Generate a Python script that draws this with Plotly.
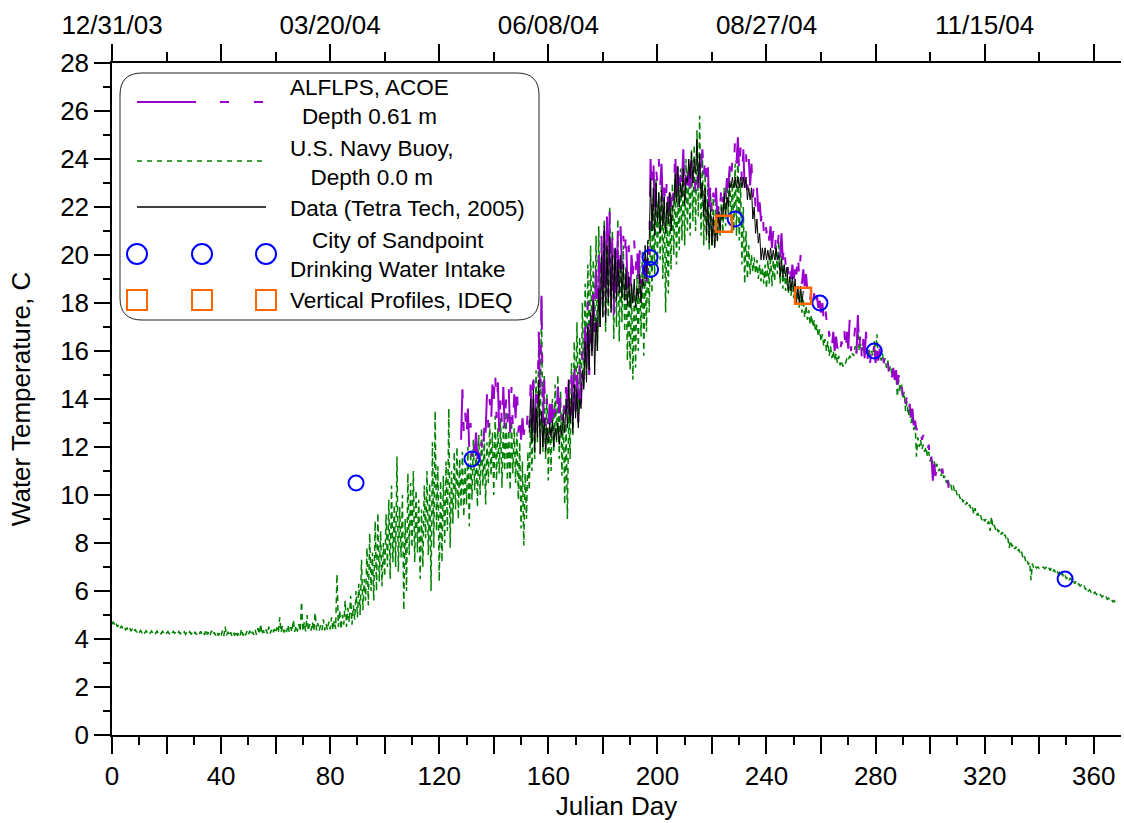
import plotly.graph_objects as go

# ---------------------------------------------------------------------------
# Water temperature records, 2004 (Julian day on x, deg C on y)
# Each continuous record is stored as a daily low / daily high pair.
# ---------------------------------------------------------------------------

# U.S. Navy Buoy, depth 0.0 m  (day 0 .. 368)
buoy_start = 0
buoy_lo = [
    4.62, 4.55, 4.50, 4.45, 4.42, 4.38, 4.35, 4.33, 4.30, 4.28,
    4.27, 4.26, 4.25, 4.26, 4.24, 4.25, 4.23, 4.24, 4.22, 4.23,
    4.24, 4.22, 4.23, 4.24, 4.22, 4.21, 4.22, 4.20, 4.21, 4.20,
    4.19, 4.18, 4.20, 4.19, 4.17, 4.18, 4.16, 4.17, 4.15, 4.14,
    4.13, 4.12, 4.14, 4.13, 4.12, 4.14, 4.13, 4.15, 4.14, 4.16,
    4.17, 4.16, 4.18, 4.17, 4.20, 4.19, 4.22, 4.21, 4.23, 4.22,
    4.25, 4.26, 4.28, 4.27, 4.29, 4.28, 4.30, 4.30, 4.31, 4.32,
    4.33, 4.32, 4.34, 4.35, 4.33, 4.36, 4.35, 4.37, 4.36, 4.38,
    4.40, 4.38, 4.42, 4.50, 4.40, 4.60, 4.50, 4.70, 4.60, 4.80,
    4.9, 5.0, 5.2, 5.6, 5.4, 6.0, 5.6, 6.0, 6.4, 6.2,
    6.6, 7.0, 6.5, 7.2, 7.0, 6.8, 7.4, 5.2, 6.0, 7.5,
    7.8, 7.2, 7.6, 6.5, 7.0, 8.2, 7.5, 6.0, 7.8, 8.5,
    6.4, 7.2, 8.0, 8.5, 7.8, 8.8, 9.4, 9.0, 9.5, 9.1,
    9.6, 8.7, 9.8, 10.2, 9.5, 10.0, 10.4, 9.6, 10.5, 10.8,
    10.0, 10.6, 10.9, 10.3, 11.0, 10.6, 10.2, 10.9, 10.5, 9.8,
    8.6, 7.9, 9.0, 10.2, 11.0, 11.5, 12.2, 12.6, 11.8, 11.5,
    10.6, 11.0, 11.8, 12.2, 11.5, 10.8, 9.6, 9.0, 11.5, 12.5,
    13.4, 13.0, 13.8, 14.5, 15.0, 15.5, 16.2, 16.8, 16.0, 17.0,
    17.5, 16.8, 17.4, 17.8, 16.5, 17.0, 16.4, 17.2, 16.8, 15.6,
    15.2, 14.8, 15.3, 16.0, 16.6, 15.8, 16.8, 17.6, 18.4, 19.2,
    19.6, 19.8, 19.0, 17.6, 18.4, 19.4, 20.0, 19.6, 20.2, 20.6,
    20.4, 21.0, 20.8, 21.4, 21.0, 21.6, 20.8, 20.4, 20.6, 20.2,
    20.4, 20.3, 20.6, 20.8, 20.9, 21.2, 21.6, 21.4, 21.0, 20.8,
    20.6, 19.6, 18.8, 19.0, 19.2, 19.3, 19.2, 19.0, 18.9, 18.8,
    18.6, 18.8, 18.7, 18.9, 19.2, 18.8, 18.6, 18.5, 18.4, 18.3,
    18.2, 18.0, 17.8, 17.6, 17.4, 17.3, 17.1, 17.0, 16.8, 16.6,
    16.4, 16.2, 16.0, 15.8, 15.7, 15.6, 15.5, 15.4, 15.35, 15.5,
    15.6, 15.7, 15.8, 15.9, 16.0, 16.0, 15.9, 15.9, 15.8, 15.8,
    15.9, 15.7, 15.6, 15.5, 15.3, 15.2, 15.0, 14.8, 14.1, 14.3,
    14.0, 13.5, 13.3, 13.0, 12.7, 11.6, 12.0, 11.9, 11.8, 11.6,
    11.4, 11.2, 11.1, 11.0, 10.8, 10.7, 10.5, 10.4, 10.2, 10.1,
    9.95, 9.85, 9.7, 9.6, 9.5, 9.4, 9.2, 9.15, 9.05, 8.95,
    8.9, 8.8, 8.5, 8.65, 8.55, 8.45, 8.35, 8.25, 8.1, 7.8,
    7.85, 7.75, 7.65, 7.55, 7.4, 7.25, 7.1, 6.45, 6.95, 6.95,
    6.95, 6.95, 6.93, 6.9, 6.85, 6.8, 6.75, 6.7, 6.65, 6.55,
    6.5, 6.45, 6.4, 6.3, 6.25, 6.2, 6.15, 6.05, 6.0, 5.95,
    5.9, 5.85, 5.8, 5.75, 5.7, 5.65, 5.6, 5.55, 5.5,
]
buoy_hi = [
    4.72, 4.65, 4.60, 4.55, 4.50, 4.46, 4.45, 4.42, 4.40, 4.38,
    4.36, 4.34, 4.35, 4.33, 4.34, 4.32, 4.33, 4.31, 4.32, 4.30,
    4.31, 4.30, 4.32, 4.30, 4.31, 4.29, 4.30, 4.29, 4.30, 4.28,
    4.30, 4.27, 4.32, 4.28, 4.40, 4.30, 4.34, 4.28, 4.30, 4.26,
    4.35, 4.52, 4.30, 4.28, 4.27, 4.33, 4.28, 4.42, 4.30, 4.32,
    4.34, 4.30, 4.38, 4.45, 4.62, 4.36, 4.40, 4.52, 4.38, 4.42,
    4.48, 4.90, 4.55, 4.46, 4.58, 4.50, 4.80, 4.56, 4.62, 5.55,
    4.70, 5.00, 4.62, 4.70, 5.10, 4.66, 4.58, 4.82, 4.64, 4.72,
    4.90, 4.76, 6.70, 5.20, 5.00, 5.60, 5.30, 5.80, 5.40, 6.00,
    6.3, 7.3, 6.5, 7.8, 8.4, 7.6, 8.9, 9.25, 8.5, 8.0,
    9.2, 9.8, 10.4, 9.6, 11.6, 9.5, 10.0, 9.0, 10.9, 10.5,
    11.0, 10.2, 9.8, 9.4, 10.4, 11.0, 10.5, 12.2, 13.5, 11.2,
    10.6, 10.8, 11.4, 13.6, 11.0, 11.8, 12.0, 11.5, 11.8, 11.2,
    12.0, 11.8, 12.3, 12.0, 12.5, 12.8, 12.4, 12.2, 13.0, 12.6,
    13.3, 12.8, 13.2, 12.9, 13.5, 12.7, 13.1, 12.8, 12.6, 12.2,
    11.4, 10.9, 11.8, 13.2, 14.0, 15.2, 16.5, 18.2, 15.0, 14.2,
    13.5, 14.0, 14.6, 15.0, 14.3, 13.6, 13.0, 13.8, 15.5, 16.4,
    17.2, 16.6, 18.0, 18.8, 19.6, 20.4, 19.8, 20.8, 21.2, 20.5,
    21.5, 20.8, 22.0, 21.0, 20.2, 21.5, 19.8, 20.4, 19.5, 19.0,
    18.8, 18.4, 19.2, 19.8, 20.2, 19.6, 20.6, 21.4, 22.4, 23.2,
    22.6, 23.4, 22.8, 21.6, 22.4, 23.0, 23.2, 22.8, 23.6, 23.4,
    24.0, 23.8, 24.4, 24.6, 25.2, 25.8, 24.2, 23.4, 23.0, 22.6,
    22.4, 22.2, 22.0, 22.4, 22.8, 23.2, 23.6, 23.0, 23.8, 24.4,
    23.0, 22.0, 21.0, 20.4, 20.0, 19.9, 19.8, 19.6, 19.5, 19.6,
    19.8, 20.0, 19.8, 20.4, 20.6, 20.0, 19.6, 19.2, 19.0, 18.9,
    18.8, 18.7, 18.5, 18.2, 17.9, 17.7, 17.5, 17.3, 17.1, 16.9,
    16.7, 16.5, 16.4, 16.2, 16.0, 15.9, 15.8, 15.6, 15.55, 15.7,
    15.8, 15.9, 16.2, 16.9, 16.3, 16.2, 16.1, 16.1, 16.0, 16.4,
    16.7, 16.0, 15.9, 15.7, 15.6, 15.4, 15.2, 15.0, 14.8, 14.6,
    14.3, 13.9, 13.6, 13.3, 13.0, 12.4, 12.3, 12.1, 12.0, 11.8,
    11.6, 11.4, 11.3, 11.1, 11.0, 10.8, 10.7, 10.5, 10.4, 10.2,
    10.05, 9.95, 9.8, 9.7, 9.6, 9.5, 9.45, 9.25, 9.15, 9.05,
    9.0, 8.9, 9.1, 8.75, 8.65, 8.55, 8.45, 8.35, 8.2, 8.1,
    7.95, 7.85, 7.75, 7.65, 7.5, 7.35, 7.2, 7.15, 7.05, 7.0,
    7.0, 7.0, 6.98, 6.98, 6.95, 6.9, 6.85, 6.8, 6.75, 6.65,
    6.6, 6.55, 6.45, 6.4, 6.3, 6.25, 6.2, 6.15, 6.05, 6.0,
    5.95, 5.9, 5.85, 5.8, 5.75, 5.7, 5.65, 5.6, 5.55,
]

# ALFLPS, ACOE, depth 0.61 m  (day 128 .. 307)
alflps_start = 128
alflps_lo = [
    12.3, 12.6, 12.4, 11.9, 11.6, 11.8, 11.5, 11.2, 11.6, 12.6,
    12.8, 13.0, 14.0, 13.2, 12.6, 12.9, 12.7, 13.0, 12.6, 12.8,
    13.2, 12.6, 12.3, 12.5, 12.6, 12.8, 13.0, 12.6, 13.8, 14.0,
    13.0, 12.8, 12.9, 13.0, 12.8, 13.1, 13.4, 13.1, 13.3, 13.6,
    12.8, 13.2, 13.5, 13.0, 13.8, 14.8, 15.4, 15.0, 16.0, 16.6,
    17.0, 17.4, 17.8, 17.5, 18.2, 18.0, 17.5, 18.0, 19.0, 19.4,
    19.9, 18.6, 18.2, 19.2, 19.3, 19.0, 18.8, 18.7, 18.9, 20.0,
    21.9, 22.0, 23.0, 22.8, 22.0, 22.0, 21.8, 22.0, 22.3, 22.6,
    22.4, 23.0, 22.6, 22.4, 22.8, 23.0, 22.6, 22.8, 23.7, 23.2,
    23.0, 22.0, 21.6, 21.8, 21.5, 22.0, 22.2, 22.4, 22.8, 23.0,
    23.7, 23.8, 23.4, 23.0, 22.8, 22.7, 22.9, 22.4, 21.9, 21.8,
    21.4, 21.0, 20.9, 20.6, 20.3, 20.1, 20.2, 19.9, 19.8, 19.6,
    19.2, 19.0, 19.0, 19.2, 19.0, 18.8, 18.7, 18.5, 18.1, 17.9,
    17.7, 17.8, 17.6, 17.3, 17.3, 16.6, 16.2, 16.0, 16.1, 16.0,
    16.2, 15.9, 16.1, 16.0, 16.3, 15.9, 16.0, 15.5, 15.7, 15.6,
    15.5, 15.7, 15.5, 15.6, 15.5, 15.5, 15.2, 15.0, 14.9, 14.8,
    14.6, 14.4, 14.1, 13.8, 13.4, 13.25, 12.9, 12.7, 12.5, 12.3,
    12.2, 11.8, 11.2, 10.6, 10.8, 11.0, 10.9, 10.7, 10.4, 10.1,
]
alflps_hi = [
    14.4, 13.5, 13.6, 13.0, 12.4, 12.6, 12.3, 12.2, 12.8, 14.2,
    14.0, 14.6, 15.2, 14.7, 14.2, 14.5, 14.0, 14.4, 14.5, 14.2,
    14.6, 13.4, 13.2, 13.0, 13.6, 14.6, 15.3, 14.5, 16.8, 18.3,
    14.8, 14.0, 13.8, 14.2, 13.6, 14.5, 14.2, 14.0, 14.5, 14.8,
    15.0, 15.6, 15.0, 15.4, 16.0, 17.0, 18.1, 17.6, 18.6, 19.4,
    20.0, 20.8, 21.0, 21.6, 21.8, 21.0, 20.6, 21.0, 21.2, 20.8,
    21.0, 20.4, 20.0, 20.6, 20.4, 20.2, 19.8, 19.8, 20.6, 24.0,
    24.1, 23.6, 24.0, 23.8, 22.8, 23.2, 22.6, 23.0, 24.4, 24.0,
    23.6, 24.4, 23.8, 23.5, 24.1, 23.6, 23.4, 23.6, 24.4, 24.2,
    23.7, 23.0, 22.6, 22.8, 22.4, 23.0, 23.0, 23.2, 23.7, 24.0,
    24.8, 24.9, 24.5, 24.4, 24.2, 24.0, 23.8, 23.1, 22.8, 22.2,
    22.0, 21.6, 21.4, 21.2, 21.0, 20.8, 20.9, 20.9, 20.5, 20.1,
    19.8, 19.6, 19.4, 20.1, 20.0, 19.4, 19.2, 18.7, 18.6, 18.4,
    18.3, 18.1, 18.0, 17.9, 17.6, 16.9, 16.8, 16.6, 16.5, 16.4,
    17.0, 16.8, 17.3, 16.6, 17.0, 17.5, 16.9, 16.5, 16.8, 16.3,
    16.1, 16.2, 16.0, 16.1, 15.9, 15.8, 15.5, 15.4, 15.3, 15.2,
    15.0, 14.7, 14.5, 14.1, 13.8, 13.6, 13.1, 12.9, 12.7, 12.5,
    12.3, 12.1, 11.6, 11.3, 11.2, 11.2, 11.1, 10.9, 10.6, 10.4,
]

# Data (Tetra Tech, 2005)  (day 153 .. 253)
tetra_start = 153
tetra_lo = [
    12.6, 12.2, 11.8, 12.4, 11.7, 12.0, 11.8, 12.2, 12.4, 12.0,
    12.3, 12.1, 12.5, 12.6, 12.8, 13.0, 12.6, 13.2, 12.8, 13.6,
    14.4, 14.7, 15.2, 15.8, 15.0, 16.0, 17.0, 17.4, 17.2, 18.0,
    17.6, 18.2, 18.1, 18.4, 18.2, 18.1, 17.9, 17.8, 18.0, 17.8,
    18.2, 18.0, 18.7, 19.0, 20.6, 21.0, 20.8, 21.4, 20.9, 21.2,
    20.9, 21.3, 21.0, 22.0, 22.2, 22.0, 22.4, 22.1, 23.0, 23.2,
    23.0, 23.4, 23.0, 22.4, 21.6, 20.8, 20.5, 20.4, 20.3, 20.6,
    21.0, 21.5, 21.6, 22.0, 22.8, 22.8, 22.8, 22.8, 22.8, 22.8,
    22.3, 22.3, 21.5, 20.9, 20.5, 19.8, 19.8, 19.8, 19.8, 19.8,
    19.8, 19.8, 19.1, 19.1, 19.1, 18.5, 18.5, 18.5, 18.0, 18.0,
    18.0,
]
tetra_hi = [
    14.0, 14.4, 13.6, 14.8, 13.5, 13.2, 12.8, 13.0, 13.1, 12.8,
    13.0, 12.9, 13.4, 14.0, 14.8, 14.2, 14.6, 14.4, 14.0, 15.2,
    16.4, 17.0, 17.6, 18.1, 17.4, 18.6, 20.0, 21.2, 20.4, 20.8,
    20.0, 20.3, 19.8, 20.0, 19.6, 19.4, 19.1, 18.8, 19.0, 18.6,
    19.2, 19.0, 20.4, 20.6, 23.2, 22.8, 23.0, 22.6, 22.7, 22.4,
    22.2, 22.6, 22.0, 23.4, 23.7, 23.0, 23.6, 23.2, 24.0, 24.3,
    24.0, 24.8, 24.2, 23.0, 22.8, 22.2, 21.9, 21.6, 21.2, 21.8,
    22.0, 22.6, 22.4, 23.0, 23.25, 23.25, 23.25, 23.25, 23.25, 23.25,
    22.8, 22.8, 22.0, 21.5, 20.9, 20.3, 20.3, 20.2, 20.3, 20.2,
    20.3, 20.0, 19.8, 19.6, 19.5, 19.1, 19.1, 19.0, 18.7, 18.7,
    18.5,
]

# Discrete samples
sandpoint_day = [89.5, 132.0, 197.3, 197.5, 228.5, 259.6, 279.5, 349.5]
sandpoint_temp = [10.5, 11.5, 19.9, 19.4, 21.5, 18.0, 16.0, 6.5]
ideq_day = [224.4, 253.4]
ideq_temp = [21.3, 18.3]

# Axis ticks
bottom_major = list(range(0, 361, 20))
bottom_minor = list(range(10, 360, 20))
top_major = list(range(0, 361, 40))
top_minor = list(range(20, 360, 40))
top_dates = {0: "12/31/03", 80: "03/20/04", 160: "06/08/04",
             240: "08/27/04", 320: "11/15/04"}

PURPLE = "#9900CC"
GREEN = "#008000"
BLUE = "#0000FF"
ORANGE = "#FF6600"
FONT = "Arial, 'Liberation Sans', sans-serif"
BUOY_DASH = "6px,4px"
ALFLPS_DASH = "59px,24px,9px,25px,9px,24px"


def daily_swing(start, lo, hi):
    """Expand daily low/high pairs into a zig-zag trace."""
    xs, ys = [], []
    for i, (a, b) in enumerate(zip(lo, hi)):
        xs += [start + i, start + i + 0.5]
        ys += [a, b]
    return xs, ys


fig = go.Figure()

bx, by = daily_swing(buoy_start, buoy_lo, buoy_hi)
fig.add_trace(go.Scatter(x=bx, y=by, mode="lines", name="U.S. Navy Buoy",
                         line=dict(color=GREEN, width=1.5, dash=BUOY_DASH)))

ax_, ay_ = daily_swing(alflps_start, alflps_lo, alflps_hi)
fig.add_trace(go.Scatter(x=ax_, y=ay_, mode="lines", name="ALFLPS, ACOE",
                         line=dict(color=PURPLE, width=2, dash=ALFLPS_DASH)))

tx, ty = daily_swing(tetra_start, tetra_lo, tetra_hi)
fig.add_trace(go.Scatter(x=tx, y=ty, mode="lines", name="Data",
                         line=dict(color="black", width=1)))

fig.add_trace(go.Scatter(x=sandpoint_day, y=sandpoint_temp, mode="markers",
                         name="City of Sandpoint",
                         marker=dict(symbol="circle-open", size=15,
                                     color=BLUE, line=dict(width=2))))
fig.add_trace(go.Scatter(x=ideq_day, y=ideq_temp, mode="markers",
                         name="Vertical Profiles, IDEQ",
                         marker=dict(symbol="square-open", size=16,
                                     color=ORANGE, line=dict(width=2.5))))

# plot-area edges in pixels, used to place the legend panel
L, R, T, B = 112, 1121, 63, 735


def px(x):
    return (x - L) / (R - L)


def py(y):
    return (B - y) / (B - T)


# Legend panel (rounded box, samples and labels)
shapes = []
xl, xr, yt, yb = px(120), px(539), py(73), py(320)
rx, ry = 22 / (R - L), 22 / (B - T)
path = (f"M {xl + rx},{yt} L {xr - rx},{yt} Q {xr},{yt} {xr},{yt - ry} "
        f"L {xr},{yb + ry} Q {xr},{yb} {xr - rx},{yb} "
        f"L {xl + rx},{yb} Q {xl},{yb} {xl},{yb + ry} "
        f"L {xl},{yt - ry} Q {xl},{yt} {xl + rx},{yt} Z")
shapes.append(dict(type="path", path=path, xref="paper", yref="paper",
                   fillcolor="white", line=dict(color="#222222", width=1),
                   layer="above"))
shapes.append(dict(type="line", xref="paper", yref="paper",
                   x0=px(137), x1=px(263), y0=py(102), y1=py(102),
                   line=dict(color=PURPLE, width=2, dash=ALFLPS_DASH),
                   layer="above"))
shapes.append(dict(type="line", xref="paper", yref="paper",
                   x0=px(137), x1=px(266), y0=py(161), y1=py(161),
                   line=dict(color=GREEN, width=1.5, dash="5px,5px"),
                   layer="above"))
shapes.append(dict(type="line", xref="paper", yref="paper",
                   x0=px(137), x1=px(266), y0=py(207), y1=py(207),
                   line=dict(color="black", width=1.5), layer="above"))
for cx in (137, 202, 266):
    shapes.append(dict(type="circle", xref="paper", yref="paper",
                       xsizemode="pixel", ysizemode="pixel",
                       xanchor=px(cx), yanchor=py(254),
                       x0=-10, x1=10, y0=-10, y1=10,
                       line=dict(color=BLUE, width=2), layer="above"))
    shapes.append(dict(type="rect", xref="paper", yref="paper",
                       xsizemode="pixel", ysizemode="pixel",
                       xanchor=px(cx), yanchor=py(300),
                       x0=-10, x1=10, y0=-10, y1=10,
                       line=dict(color=ORANGE, width=2), layer="above"))

legend_labels = [
    ("ALFLPS, ACOE<br>Depth 0.61 m", 102.5),
    ("U.S. Navy Buoy,<br>Depth 0.0 m", 162.5),
    ("Data (Tetra Tech, 2005)", 208),
    ("City of Sandpoint<br>Drinking Water Intake", 255),
    ("Vertical Profiles, IDEQ", 300),
]
annotations = []
for text, yy in legend_labels:
    annotations.append(dict(text=text, xref="paper", yref="paper",
                            x=px(288), y=py(yy), xanchor="left",
                            yanchor="middle", align="center",
                            showarrow=False,
                            font=dict(family=FONT, size=22.5, color="black")))

axis_common = dict(showgrid=False, zeroline=False, showline=True,
                   linecolor="black", linewidth=1.5, ticks="outside",
                   tickcolor="black", tickwidth=1.5, automargin=False,
                   tickfont=dict(family=FONT, size=26, color="black"))

fig.update_layout(
    template="none",
    width=1124, height=823,
    margin=dict(l=L, r=1124 - R, t=T, b=823 - B),
    paper_bgcolor="white", plot_bgcolor="white",
    showlegend=False,
    font=dict(family=FONT, color="black"),
    xaxis=dict(range=[0, 370], tickvals=bottom_major,
               ticktext=[str(v) if v % 40 == 0 else "" for v in bottom_major],
               ticklen=17,
               minor=dict(tickvals=bottom_minor, ticklen=8, ticks="outside",
                          tickcolor="black", tickwidth=1.5),
               title=dict(text="Julian Day",
                          font=dict(family=FONT, size=26), standoff=4),
               **axis_common),
    xaxis2=dict(range=[0, 370], overlaying="x", side="top", anchor="y",
                tickvals=top_major,
                ticktext=[top_dates.get(v, "") for v in top_major],
                ticklen=17,
                minor=dict(tickvals=top_minor, ticklen=9, ticks="outside",
                           tickcolor="black", tickwidth=1.5),
                **axis_common),
    yaxis=dict(range=[0, 28], tickvals=list(range(0, 29, 2)), ticklen=16,
               minor=dict(dtick=1, ticklen=7, ticks="outside",
                          tickcolor="black", tickwidth=1.5),
               title=dict(text="Water Temperature, C",
                          font=dict(family=FONT, size=26), standoff=22),
               **axis_common),
    shapes=shapes,
    annotations=annotations,
)

# an empty trace on the top axis so that it is laid out
fig.add_trace(go.Scatter(x=[None], y=[None], xaxis="x2", showlegend=False,
                         hoverinfo="skip"))

fig.write_html("out.html")
